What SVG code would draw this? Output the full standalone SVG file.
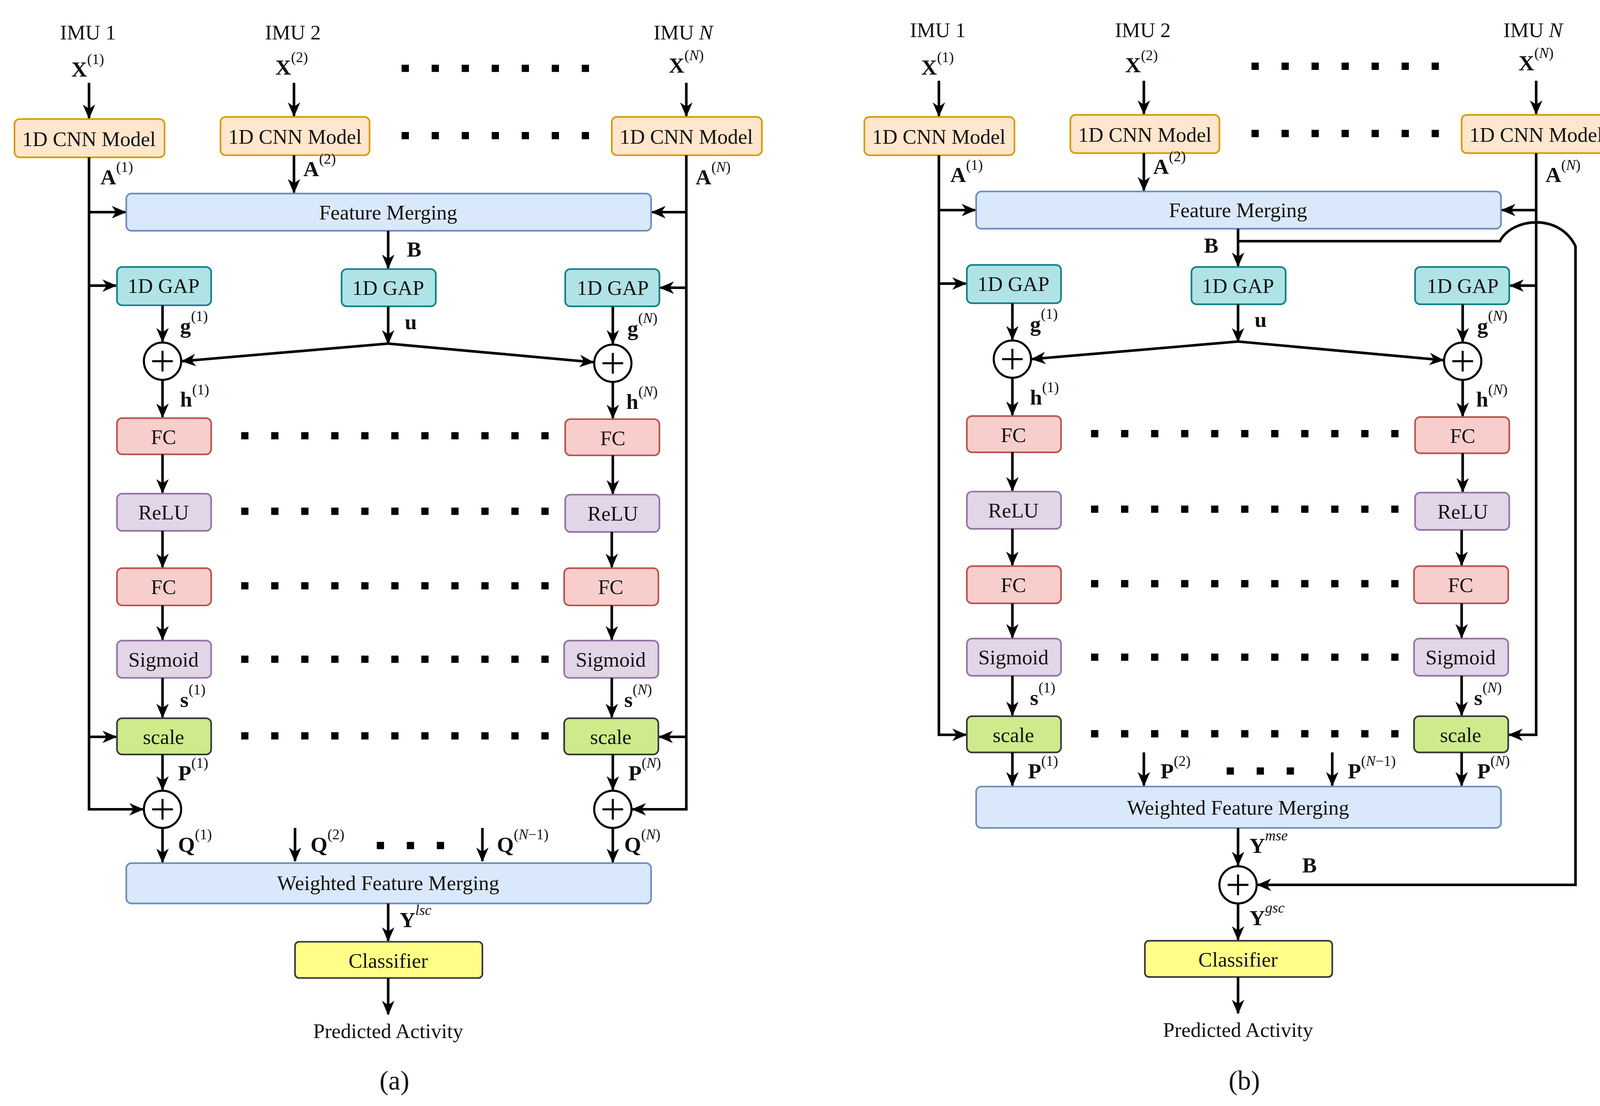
<svg xmlns="http://www.w3.org/2000/svg" width="4155" height="2832" viewBox="0 0 4155 2832">
<style>
text{font-family:"Liberation Serif","Times New Roman",serif;fill:#111}
.t{font-size:20px;text-anchor:middle}
.m{font-size:21px;font-weight:bold}
.s{font-size:14px;font-weight:normal}
.i{font-style:italic}
.cnn{fill:#ffe6cc;stroke:#d79b00;stroke-width:1.6}
.fm{fill:#dae8fc;stroke:#6c8ebf;stroke-width:1.6}
.gap{fill:#b0e3e6;stroke:#0e8088;stroke-width:1.6}
.fc{fill:#f8cecc;stroke:#b85450;stroke-width:1.6}
.rl{fill:#e1d5e7;stroke:#9673a6;stroke-width:1.6}
.sc{fill:#cdeb8b;stroke:#36393d;stroke-width:1.6}
.cl{fill:#ffff88;stroke:#36393d;stroke-width:1.6}
.c{fill:#fff;stroke:#000;stroke-width:2}
.w{fill:none;stroke:#000;stroke-width:2.5}
.a{fill:none;stroke:#000;stroke-width:2.5;marker-end:url(#ar)}
.d{stroke:#000;stroke-width:7;stroke-dasharray:7 22}
</style>
<defs>
<marker id="ar" markerUnits="userSpaceOnUse" markerWidth="14" markerHeight="14" refX="13" refY="6" orient="auto" viewBox="0 0 14 12">
<path d="M0,0 L14,6 L0,12 L4,6 z" fill="#000"/>
</marker>
<g id="plus"><circle r="18" class="c"/><path d="M-10,0H10M0,-10V10" stroke="#000" stroke-width="2"/></g>
</defs>
<g transform="scale(2.65)">
<!-- ===== Panel (a) ===== -->
<g id="panel-a">
<g id="a-inputs">
<text class="t" x="85" y="38">IMU 1</text>
<text class="t" x="283" y="38">IMU 2</text>
<text class="t" x="660" y="38">IMU <tspan class="i">N</tspan></text>
<text class="m" x="69" y="74">X<tspan class="s" dy="-12">(1)</tspan></text>
<text class="m" x="266" y="72">X<tspan class="s" dy="-12">(2)</tspan></text>
<text class="m" x="646" y="70">X<tspan class="s" dy="-12">(<tspan class="i">N</tspan>)</tspan></text>
</g>
<g id="a-cnn1"><rect class="cnn" x="14" y="115" width="145" height="37" rx="5"/><text class="t" x="86" y="141">1D CNN Model</text></g>
<g id="a-cnn2"><rect class="cnn" x="213" y="113" width="144" height="37" rx="5"/><text class="t" x="285" y="139">1D CNN Model</text></g>
<g id="a-cnnN"><rect class="cnn" x="591" y="113" width="145" height="37" rx="5"/><text class="t" x="663" y="139">1D CNN Model</text></g>
<g id="a-fm"><rect class="fm" x="122" y="187" width="507" height="36" rx="5"/><text class="t" x="375" y="212">Feature Merging</text></g>
<g id="a-gap1"><rect class="gap" x="113" y="258" width="91" height="37" rx="5"/><text class="t" x="158" y="283">1D GAP</text></g>
<g id="a-gapc"><rect class="gap" x="330" y="260" width="91" height="36" rx="5"/><text class="t" x="375" y="285">1D GAP</text></g>
<g id="a-gapN"><rect class="gap" x="546" y="260" width="91" height="36" rx="5"/><text class="t" x="592" y="285">1D GAP</text></g>
<g id="a-add1"><use href="#plus" x="157" y="349"/></g>
<g id="a-addN"><use href="#plus" x="592" y="351"/></g>
<g id="a-fc1"><rect class="fc" x="113" y="404" width="91" height="35" rx="5"/><text class="t" x="158" y="429">FC</text></g>
<g id="a-fcN"><rect class="fc" x="546" y="405" width="91" height="35" rx="5"/><text class="t" x="592" y="430">FC</text></g>
<g id="a-relu1"><rect class="rl" x="113" y="477" width="91" height="36" rx="5"/><text class="t" x="158" y="502">ReLU</text></g>
<g id="a-reluN"><rect class="rl" x="546" y="478" width="91" height="36" rx="5"/><text class="t" x="592" y="503">ReLU</text></g>
<g id="a-fc21"><rect class="fc" x="113" y="549" width="91" height="36" rx="5"/><text class="t" x="158" y="574">FC</text></g>
<g id="a-fc2N"><rect class="fc" x="545" y="549" width="91" height="36" rx="5"/><text class="t" x="590" y="574">FC</text></g>
<g id="a-sig1"><rect class="rl" x="113" y="619" width="91" height="36" rx="5"/><text class="t" x="158" y="644">Sigmoid</text></g>
<g id="a-sigN"><rect class="rl" x="545" y="619" width="91" height="36" rx="5"/><text class="t" x="590" y="644">Sigmoid</text></g>
<g id="a-scale1"><rect class="sc" x="113" y="694" width="91" height="35" rx="5"/><text class="t" x="158" y="719">scale</text></g>
<g id="a-scaleN"><rect class="sc" x="545" y="694" width="91" height="35" rx="5"/><text class="t" x="590" y="719">scale</text></g>
<g id="a-add21"><use href="#plus" x="157" y="782"/></g>
<g id="a-add2N"><use href="#plus" x="592" y="782"/></g>
<g id="a-wfm"><rect class="fm" x="122" y="834" width="507" height="39" rx="5"/><text class="t" x="375" y="860">Weighted Feature Merging</text></g>
<g id="a-cls"><rect class="cl" x="285" y="910" width="181" height="35" rx="4"/><text class="t" x="375" y="935">Classifier</text></g>
<g id="a-out"><text class="t" x="375" y="1003">Predicted Activity</text><text class="t" x="381" y="1053" style="font-size:26px">(a)</text></g>
<g id="a-dots">
<line class="d" x1="388" y1="66" x2="570" y2="66"/>
<line class="d" x1="388" y1="131" x2="570" y2="131"/>
<line class="d" x1="233" y1="421" x2="530" y2="421"/>
<line class="d" x1="233" y1="494" x2="530" y2="494"/>
<line class="d" x1="233" y1="566" x2="530" y2="566"/>
<line class="d" x1="233" y1="637" x2="530" y2="637"/>
<line class="d" x1="233" y1="711" x2="530" y2="711"/>
<line class="d" x1="364" y1="817" x2="430" y2="817"/>
</g>
<g id="a-connectors">
<path class="a" d="M86,80V114"/><path class="a" d="M284,80V112"/><path class="a" d="M663,80V112"/>
<path class="a" d="M86,152V782H138"/>
<path class="a" d="M86,205H121"/><path class="a" d="M86,276H112"/><path class="a" d="M86,712H112"/>
<path class="a" d="M663,150V782H611"/>
<path class="a" d="M663,205H630"/><path class="a" d="M663,278H638"/><path class="a" d="M663,712H637"/>
<path class="a" d="M284,150V186"/>
<path class="a" d="M375,223V259"/>
<path class="a" d="M157,295V330"/><path class="a" d="M592,296V332"/>
<path class="a" d="M375,296V332"/>
<path class="a" d="M375,332L176,349"/><path class="a" d="M375,332L573,350"/>
<path class="a" d="M157,367V403"/><path class="a" d="M592,369V404"/>
<path class="a" d="M157,439V476"/><path class="a" d="M592,440V477"/>
<path class="a" d="M157,513V548"/><path class="a" d="M591,514V548"/>
<path class="a" d="M157,585V618"/><path class="a" d="M591,585V618"/>
<path class="a" d="M157,655V693"/><path class="a" d="M591,655V693"/>
<path class="a" d="M157,729V763"/><path class="a" d="M592,729V763"/>
<path class="a" d="M157,800V833"/><path class="a" d="M592,800V833"/>
<path class="a" d="M285,800V832"/><path class="a" d="M466,800V832"/>
<path class="a" d="M375,873V909"/>
<path class="a" d="M375,945V980"/>
</g>
<g id="a-labels">
<text class="m" x="97" y="178">A<tspan class="s" dy="-12">(1)</tspan></text>
<text class="m" x="293" y="170">A<tspan class="s" dy="-12">(2)</tspan></text>
<text class="m" x="672" y="178">A<tspan class="s" dy="-12">(<tspan class="i">N</tspan>)</tspan></text>
<text class="m" x="393" y="248">B</text>
<text class="m" x="174" y="322">g<tspan class="s" dy="-12">(1)</tspan></text>
<text class="m" x="391" y="318">u</text>
<text class="m" x="606" y="324">g<tspan class="s" dy="-12">(<tspan class="i">N</tspan>)</tspan></text>
<text class="m" x="174" y="393">h<tspan class="s" dy="-12">(1)</tspan></text>
<text class="m" x="605" y="395">h<tspan class="s" dy="-12">(<tspan class="i">N</tspan>)</tspan></text>
<text class="m" x="174" y="683">s<tspan class="s" dy="-12">(1)</tspan></text>
<text class="m" x="603" y="683">s<tspan class="s" dy="-12">(<tspan class="i">N</tspan>)</tspan></text>
<text class="m" x="172" y="754">P<tspan class="s" dy="-12">(1)</tspan></text>
<text class="m" x="607" y="754">P<tspan class="s" dy="-12">(<tspan class="i">N</tspan>)</tspan></text>
<text class="m" x="172" y="823">Q<tspan class="s" dy="-12">(1)</tspan></text>
<text class="m" x="300" y="823">Q<tspan class="s" dy="-12">(2)</tspan></text>
<text class="m" x="480" y="823">Q<tspan class="s" dy="-12">(<tspan class="i">N</tspan>−1)</tspan></text>
<text class="m" x="603" y="823">Q<tspan class="s" dy="-12">(<tspan class="i">N</tspan>)</tspan></text>
<text class="m" x="386" y="896">Y<tspan class="s i" dy="-12">lsc</tspan></text>
</g>
</g>
<!-- ===== Panel (b) ===== -->
<g id="panel-b" transform="translate(821,-2)">
<g id="b-inputs">
<text class="t" x="85" y="38">IMU 1</text>
<text class="t" x="283" y="38">IMU 2</text>
<text class="t" x="660" y="38">IMU <tspan class="i">N</tspan></text>
<text class="m" x="69" y="74">X<tspan class="s" dy="-12">(1)</tspan></text>
<text class="m" x="266" y="72">X<tspan class="s" dy="-12">(2)</tspan></text>
<text class="m" x="646" y="70">X<tspan class="s" dy="-12">(<tspan class="i">N</tspan>)</tspan></text>
</g>
<g id="b-cnn1"><rect class="cnn" x="14" y="115" width="145" height="37" rx="5"/><text class="t" x="86" y="141">1D CNN Model</text></g>
<g id="b-cnn2"><rect class="cnn" x="213" y="113" width="144" height="37" rx="5"/><text class="t" x="285" y="139">1D CNN Model</text></g>
<g id="b-cnnN"><rect class="cnn" x="591" y="113" width="145" height="37" rx="5"/><text class="t" x="663" y="139">1D CNN Model</text></g>
<g id="b-fm"><rect class="fm" x="122" y="187" width="507" height="36" rx="5"/><text class="t" x="375" y="212">Feature Merging</text></g>
<g id="b-gap1"><rect class="gap" x="113" y="258" width="91" height="37" rx="5"/><text class="t" x="158" y="283">1D GAP</text></g>
<g id="b-gapc"><rect class="gap" x="330" y="260" width="91" height="36" rx="5"/><text class="t" x="375" y="285">1D GAP</text></g>
<g id="b-gapN"><rect class="gap" x="546" y="260" width="91" height="36" rx="5"/><text class="t" x="592" y="285">1D GAP</text></g>
<g id="b-add1"><use href="#plus" x="157" y="349"/></g>
<g id="b-addN"><use href="#plus" x="592" y="351"/></g>
<g id="b-fc1"><rect class="fc" x="113" y="404" width="91" height="35" rx="5"/><text class="t" x="158" y="429">FC</text></g>
<g id="b-fcN"><rect class="fc" x="546" y="405" width="91" height="35" rx="5"/><text class="t" x="592" y="430">FC</text></g>
<g id="b-relu1"><rect class="rl" x="113" y="477" width="91" height="36" rx="5"/><text class="t" x="158" y="502">ReLU</text></g>
<g id="b-reluN"><rect class="rl" x="546" y="478" width="91" height="36" rx="5"/><text class="t" x="592" y="503">ReLU</text></g>
<g id="b-fc21"><rect class="fc" x="113" y="549" width="91" height="36" rx="5"/><text class="t" x="158" y="574">FC</text></g>
<g id="b-fc2N"><rect class="fc" x="545" y="549" width="91" height="36" rx="5"/><text class="t" x="590" y="574">FC</text></g>
<g id="b-sig1"><rect class="rl" x="113" y="619" width="91" height="36" rx="5"/><text class="t" x="158" y="644">Sigmoid</text></g>
<g id="b-sigN"><rect class="rl" x="545" y="619" width="91" height="36" rx="5"/><text class="t" x="590" y="644">Sigmoid</text></g>
<g id="b-scale1"><rect class="sc" x="113" y="694" width="91" height="35" rx="5"/><text class="t" x="158" y="719">scale</text></g>
<g id="b-scaleN"><rect class="sc" x="545" y="694" width="91" height="35" rx="5"/><text class="t" x="590" y="719">scale</text></g>
<g id="b-wfm"><rect class="fm" x="122" y="762" width="507" height="40" rx="5"/><text class="t" x="375" y="789">Weighted Feature Merging</text></g>
<g id="b-add"><use href="#plus" x="375" y="857"/></g>
<g id="b-cls"><rect class="cl" x="285" y="911" width="181" height="35" rx="4"/><text class="t" x="375" y="936">Classifier</text></g>
<g id="b-out"><text class="t" x="375" y="1004">Predicted Activity</text><text class="t" x="381" y="1055" style="font-size:26px">(b)</text></g>
<g id="b-dots">
<line class="d" x1="388" y1="66" x2="570" y2="66"/>
<line class="d" x1="388" y1="131" x2="570" y2="131"/>
<line class="d" x1="233" y1="421" x2="530" y2="421"/>
<line class="d" x1="233" y1="494" x2="530" y2="494"/>
<line class="d" x1="233" y1="566" x2="530" y2="566"/>
<line class="d" x1="233" y1="637" x2="530" y2="637"/>
<line class="d" x1="233" y1="711" x2="530" y2="711"/>
<line class="d" x1="364" y1="747" x2="430" y2="747"/>
</g>
<g id="b-connectors">
<path class="a" d="M86,80V114"/><path class="a" d="M284,80V112"/><path class="a" d="M663,80V112"/>
<path class="a" d="M86,152V712H112"/>
<path class="a" d="M86,205H121"/><path class="a" d="M86,276H112"/>
<path class="a" d="M663,150V712H637"/>
<path class="a" d="M663,205H630"/><path class="a" d="M663,278H638"/>
<path class="a" d="M284,150V186"/>
<path class="a" d="M375,223V259"/>
<path class="a" d="M375,235H628C640,212 686,208 701,240V857H394"/>
<path class="a" d="M157,295V330"/><path class="a" d="M592,296V332"/>
<path class="a" d="M375,296V332"/>
<path class="a" d="M375,332L176,349"/><path class="a" d="M375,332L573,350"/>
<path class="a" d="M157,367V403"/><path class="a" d="M592,369V404"/>
<path class="a" d="M157,439V476"/><path class="a" d="M592,440V477"/>
<path class="a" d="M157,513V548"/><path class="a" d="M591,514V548"/>
<path class="a" d="M157,585V618"/><path class="a" d="M591,585V618"/>
<path class="a" d="M157,655V693"/><path class="a" d="M591,655V693"/>
<path class="a" d="M157,729V761"/><path class="a" d="M591,729V761"/>
<path class="a" d="M284,729V761"/><path class="a" d="M466,729V761"/>
<path class="a" d="M375,802V838"/>
<path class="a" d="M375,875V910"/>
<path class="a" d="M375,946V981"/>
</g>
<g id="b-labels">
<text class="m" x="97" y="178">A<tspan class="s" dy="-12">(1)</tspan></text>
<text class="m" x="293" y="170">A<tspan class="s" dy="-12">(2)</tspan></text>
<text class="m" x="672" y="178">A<tspan class="s" dy="-12">(<tspan class="i">N</tspan>)</tspan></text>
<text class="m" x="342" y="246">B</text>
<text class="m" x="174" y="322">g<tspan class="s" dy="-12">(1)</tspan></text>
<text class="m" x="391" y="318">u</text>
<text class="m" x="606" y="324">g<tspan class="s" dy="-12">(<tspan class="i">N</tspan>)</tspan></text>
<text class="m" x="174" y="393">h<tspan class="s" dy="-12">(1)</tspan></text>
<text class="m" x="605" y="395">h<tspan class="s" dy="-12">(<tspan class="i">N</tspan>)</tspan></text>
<text class="m" x="174" y="683">s<tspan class="s" dy="-12">(1)</tspan></text>
<text class="m" x="603" y="683">s<tspan class="s" dy="-12">(<tspan class="i">N</tspan>)</tspan></text>
<text class="m" x="172" y="754">P<tspan class="s" dy="-12">(1)</tspan></text>
<text class="m" x="300" y="754">P<tspan class="s" dy="-12">(2)</tspan></text>
<text class="m" x="481" y="754">P<tspan class="s" dy="-12">(<tspan class="i">N</tspan>−1)</tspan></text>
<text class="m" x="606" y="754">P<tspan class="s" dy="-12">(<tspan class="i">N</tspan>)</tspan></text>
<text class="m" x="386" y="826">Y<tspan class="s i" dy="-12">mse</tspan></text>
<text class="m" x="437" y="845">B</text>
<text class="m" x="386" y="896">Y<tspan class="s i" dy="-12">gsc</tspan></text>
</g>
</g>
</g>
</svg>
